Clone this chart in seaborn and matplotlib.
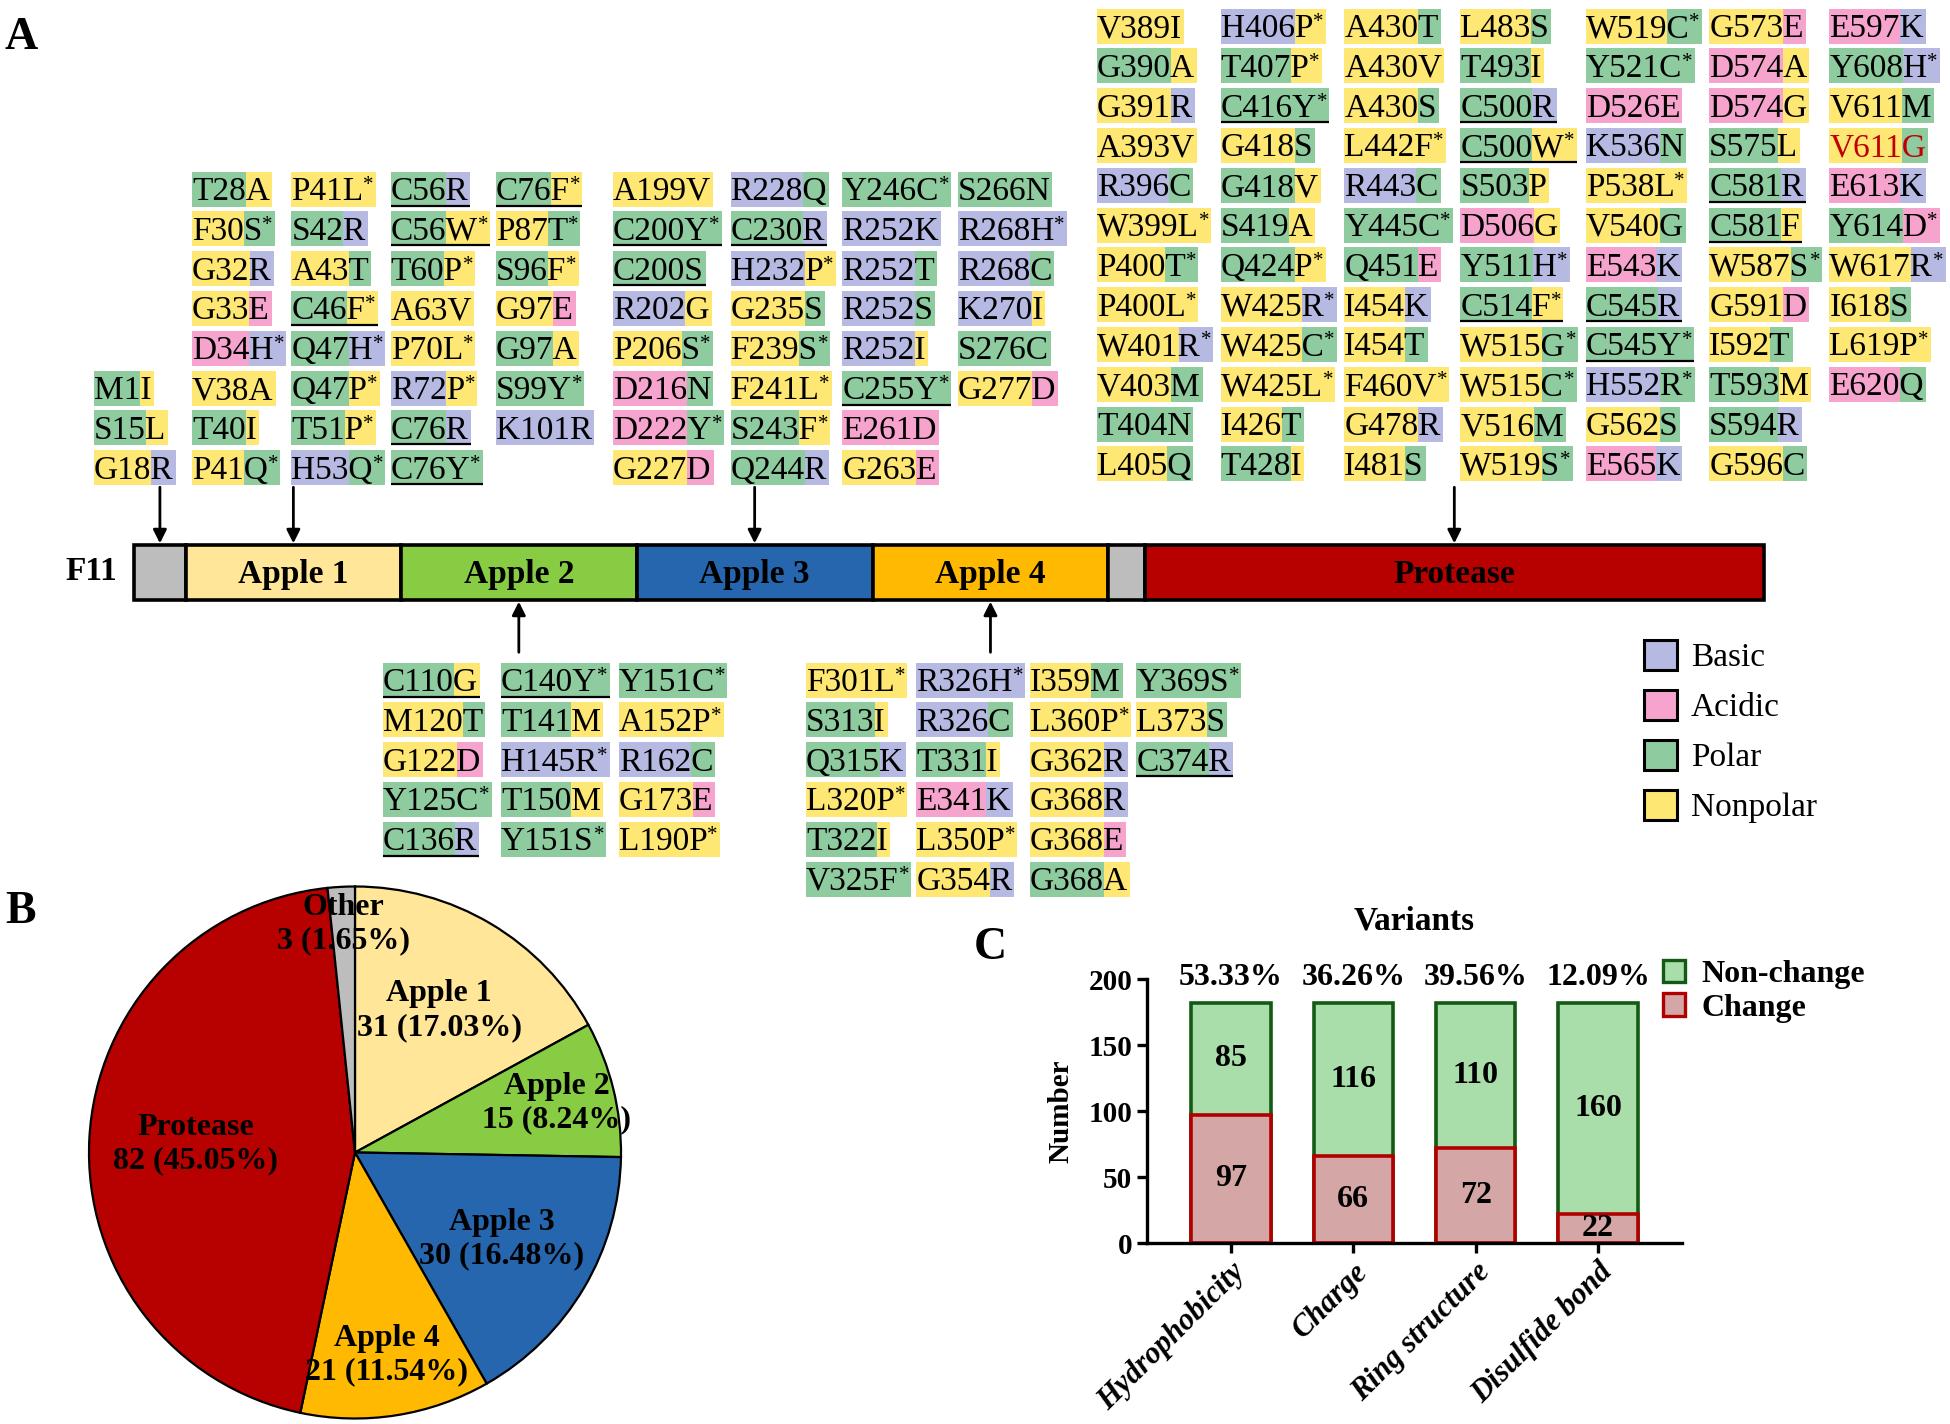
import matplotlib
matplotlib.use('Agg')
import matplotlib.pyplot as plt
import numpy as np
import pandas as pd
import seaborn as sns
from matplotlib.patches import Rectangle, Patch

sns.set_theme(style='ticks')
plt.rcParams['font.family'] = ['Liberation Serif', 'DejaVu Serif']
for key in ['text.color', 'axes.labelcolor', 'xtick.color', 'ytick.color', 'axes.edgecolor']:
    plt.rcParams[key] = 'black'

# ---- data: variants per domain, "label:classes" (b basic, a acidic, p polar, n nonpolar)
other_cols = [["M1I:pn", "S15L:pn", "G18R:nb"]]

apple1_cols = [
    ["T28A:pn", "F30S*:np", "G32R:nb", "G33E:na", "D34H*:ab", "V38A:nn", "T40I:pn", "P41Q*:np"],
    ["P41L*:nn", "S42R:pb", "A43T:np", "C46F*:pn", "Q47H*:pb", "Q47P*:pn", "T51P*:pn", "H53Q*:bp"],
    ["C56R:pb", "C56W*:pn", "T60P*:pn", "A63V:nn", "P70L*:nn", "R72P*:bn", "C76R:pb", "C76Y*:pp"],
    ["C76F*:pn", "P87T*:np", "S96F*:pn", "G97E:na", "G97A:pn", "S99Y*:pp", "K101R:bb"],
]

apple2_cols = [
    ["C110G:pn", "M120T:np", "G122D:na", "Y125C*:pp", "C136R:pb"],
    ["C140Y*:pp", "T141M:pn", "H145R*:bb", "T150M:pn", "Y151S*:pp"],
    ["Y151C*:pp", "A152P*:nn", "R162C:bp", "G173E:na", "L190P*:nn"],
]

apple3_cols = [
    ["A199V:nn", "C200Y*:pp", "C200S:pp", "R202G:bn", "P206S*:np", "D216N:ap", "D222Y*:ap", "G227D:na"],
    ["R228Q:bp", "C230R:pb", "H232P*:bn", "G235S:np", "F239S*:np", "F241L*:nn", "S243F*:pn", "Q244R:pb"],
    ["Y246C*:pp", "R252K:bb", "R252T:bp", "R252S:bp", "R252I:bn", "C255Y*:pp", "E261D:aa", "G263E:na"],
    ["S266N:pp", "R268H*:bb", "R268C:bp", "K270I:bn", "S276C:pp", "G277D:na"],
]

apple4_cols = [
    ["F301L*:nn", "S313I:pn", "Q315K:pb", "L320P*:nn", "T322I:pn", "V325F*:pp"],
    ["R326H*:bb", "R326C:bp", "T331I:pn", "E341K:ab", "L350P*:nn", "G354R:nb"],
    ["I359M:np", "L360P*:nn", "G362R:nb", "G368R:nb", "G368E:na", "G368A:pn"],
    ["Y369S*:pp", "L373S:np", "C374R:pb"],
]

protease_cols = [
    ["V389I:nn", "G390A:pn", "G391R:nb", "A393V:nn", "R396C:bp", "W399L*:nn", "P400T*:np", "P400L*:nn",
     "W401R*:nb", "V403M:np", "T404N:pp", "L405Q:np"],
    ["H406P*:bn", "T407P*:pn", "C416Y*:pp", "G418S:np", "G418V:pn", "S419A:pn", "Q424P*:pn", "W425R*:nb",
     "W425C*:np", "W425L*:nn", "I426T:np", "T428I:pn"],
    ["A430T:np", "A430V:nn", "A430S:np", "L442F*:nn", "R443C:bp", "Y445C*:pp", "Q451E:pa", "I454K:nb",
     "I454T:np", "F460V*:nn", "G478R:nb", "I481S:np"],
    ["L483S:np", "T493I:pn", "C500R:pb", "C500W*:pn", "S503P:pn", "D506G:an", "Y511H*:pb", "C514F*:pn",
     "W515G*:np", "W515C*:np", "V516M:np", "W519S*:np"],
    ["W519C*:np", "Y521C*:pp", "D526E:aa", "K536N:bp", "P538L*:nn", "V540G:np", "E543K:ab", "C545R:pb",
     "C545Y*:pp", "H552R*:bp", "G562S:np", "E565K:ab"],
    ["G573E:na", "D574A:an", "D574G:an", "S575L:pn", "C581R:pb", "C581F:pn", "W587S*:np", "G591D:na",
     "I592T:np", "T593M:pn", "S594R:pb", "G596C:np"],
    ["E597K:ab", "Y608H*:pb", "V611M:np", "V611G:np", "E613K:ab", "Y614D*:pa", "W617R*:nb", "I618S:np",
     "L619P*:nn", "E620Q:ap"],
]
highlight = ["V611G"]

# domains of F11 (residue ranges)
domain_names = ["", "Apple 1", "Apple 2", "Apple 3", "Apple 4", "", "Protease"]
domain_start = [0, 20, 103, 194, 285, 376, 390]
domain_end = [20, 103, 194, 285, 376, 390, 629]

class_names = ["Basic", "Acidic", "Polar", "Nonpolar"]

# panel C
categories = ["Hydrophobicity", "Charge", "Ring structure", "Disulfide bond"]
change = [97, 66, 72, 22]
non_change = [85, 116, 110, 160]
pct_labels = ["53.33%", "36.26%", "39.56%", "12.09%"]

# ---- styles
AA_COLORS = {'b': '#B6B9E2', 'a': '#F6A4CD', 'p': '#8ECB9F', 'n': '#FFE773'}
DOMAIN_COLORS = ['#BDBDBD', '#FFE699', '#88CC44', '#2566AE', '#FFB900', '#BDBDBD', '#B70000']
CHANGE_FILL, CHANGE_EDGE = '#D5A6A6', '#B00000'
NON_FILL, NON_EDGE = '#A9DDA9', '#145A14'
FS = 24
ROW = 39.8
BOX_H = 35

fig = plt.figure(figsize=(19.5, 14.24), dpi=100)
ax = fig.add_axes([0, 0, 1, 1])
ax.set_xlim(0, 1950)
ax.set_ylim(1424, 0)
ax.axis('off')
renderer = fig.canvas.get_renderer()


def text_width(s, **kw):
    t = ax.text(0, 0, s, **kw)
    w = t.get_window_extent(renderer).width
    t.remove()
    return w


def draw_variant(x, yc, entry):
    label, cls = entry.split(':')
    star = label.endswith('*')
    core = label.rstrip('*')
    color = '#C00000' if core in highlight else 'black'
    w_head = text_width(core[:-1], fontsize=FS)
    w_core = text_width(core, fontsize=FS)
    w_star = text_width('*', fontsize=15) if star else 0
    total = w_core + w_star + 2
    ax.add_patch(Rectangle((x, yc - BOX_H / 2), w_head, BOX_H, fc=AA_COLORS[cls[0]], ec='none', zorder=1))
    ax.add_patch(Rectangle((x + w_head, yc - BOX_H / 2), total - w_head, BOX_H,
                           fc=AA_COLORS[cls[1]], ec='none', zorder=1))
    ax.text(x, yc + 11, core, fontsize=FS, color=color, va='baseline', ha='left', zorder=2)
    if star:
        ax.text(x + w_core, yc + 1, '*', fontsize=15, va='baseline', ha='left', zorder=2)
    if core[0] == 'C':
        ax.plot([x, x + total], [yc + BOX_H / 2 - 1] * 2, color='black', lw=1.6,
                solid_capstyle='butt', zorder=3)
    return total


def draw_group(cols, x0, y0, gap):
    x = x0
    for col in cols:
        widths = [draw_variant(x, y0 + i * ROW, e) for i, e in enumerate(col)]
        x += max(widths) + gap


draw_group(other_cols, 94, 189 + 5 * ROW, 6)
draw_group(apple1_cols, 192, 189, 5.3)
draw_group(apple3_cols, 613, 189, 6.5)
draw_group(protease_cols, 1097, 26, 7.3)
draw_group(apple2_cols, 383, 680, 9)
draw_group(apple4_cols, 806, 680, 5)

# ---- domain bar
ax_dom = fig.add_axes([134 / 1950, (1424 - 600) / 1424, 1630 / 1950, 55 / 1424])
starts = np.array(domain_start)
lengths = np.array(domain_end) - starts
bars = ax_dom.barh(0.5, lengths, left=starts, height=1, color=DOMAIN_COLORS,
                   edgecolor='black', linewidth=2.6)
for b in bars:
    b.set_clip_on(False)
ax_dom.set_xlim(0, domain_end[-1])
ax_dom.set_ylim(0, 1)
ax_dom.axis('off')
mids = (starts + np.array(domain_end)) / 2
for name, m in zip(domain_names, mids):
    if name:
        ax_dom.text(m, 0.47, name, ha='center', va='center', fontsize=24, fontweight='bold')

arrow_kw = dict(arrowstyle='-|>', color='black', lw=2, mutation_scale=20, shrinkA=0, shrinkB=0)
for d in [0, 1, 3, 6]:
    ax_dom.annotate('', xy=(mids[d], 1.03), xytext=(mids[d], 2.05), arrowprops=arrow_kw,
                    annotation_clip=False)
for d in [2, 4]:
    ax_dom.annotate('', xy=(mids[d], -0.03), xytext=(mids[d], -0.95), arrowprops=arrow_kw,
                    annotation_clip=False)
ax.text(91, 572, 'F11', fontsize=24, fontweight='bold', ha='center', va='center')

# class legend
class_handles = [Patch(fc=AA_COLORS[k], ec='black', lw=2.2, label=n)
                 for k, n in zip(['b', 'a', 'p', 'n'], class_names)]
ax.legend(handles=class_handles, loc='upper left', bbox_to_anchor=(1644 / 1950, 1 - 640 / 1424),
          frameon=False, fontsize=24, handlelength=1.0, handleheight=1.0, handletextpad=0.4,
          labelspacing=0.5, borderpad=0, borderaxespad=0)

# panel letters
ax.text(21, 38, 'A', fontsize=33, fontweight='bold', ha='center', va='center')
ax.text(20, 912, 'B', fontsize=33, fontweight='bold', ha='center', va='center')
ax.text(990, 948, 'C', fontsize=33, fontweight='bold', ha='center', va='center')

# ---- panel B: pie
pie_names = ["Apple 1", "Apple 2", "Apple 3", "Apple 4", "Protease", "Other"]
pie_counts = [sum(len(c) for c in g) for g in
              [apple1_cols, apple2_cols, apple3_cols, apple4_cols, protease_cols, other_cols]]
pie_colors = [DOMAIN_COLORS[i] for i in [1, 2, 3, 4, 6, 0]]
label_r = [0.62, 0.78, 0.64, 0.77, 0.6, 0.86]

r_px, cx, cy = 266, 355, 1152.5
s = 2 * r_px * 1.03
ax_pie = fig.add_axes([(cx - s / 2) / 1950, (1424 - cy - s / 2) / 1424, s / 1950, s / 1424])
wedges, _ = ax_pie.pie(pie_counts, colors=pie_colors, startangle=90, counterclock=False,
                       wedgeprops=dict(edgecolor='black', linewidth=1.6))
ax_pie.set_xlim(-1.03, 1.03)
ax_pie.set_ylim(-1.03, 1.03)
ax_pie.set_aspect('equal')
total = sum(pie_counts)
for w, name, cnt, rr in zip(wedges, pie_names, pie_counts, label_r):
    ang = np.deg2rad((w.theta1 + w.theta2) / 2)
    ax_pie.text(rr * np.cos(ang), rr * np.sin(ang), f"{name}\n{cnt} ({100 * cnt / total:.2f}%)",
                ha='center', va='center', fontsize=23, fontweight='bold')

# ---- panel C: stacked bars
df = pd.DataFrame({'category': categories, 'change': change, 'non_change': non_change})
df['total'] = df['change'] + df['non_change']

ax_bar = fig.add_axes([1147 / 1950, 181 / 1424, 535 / 1950, 264 / 1424])
ax_bar.patch.set_alpha(0)
sns.barplot(data=df, x='category', y='total', color=NON_FILL, edgecolor=NON_EDGE, linewidth=2.6,
            width=0.65, saturation=1, errorbar=None, ax=ax_bar)
sns.barplot(data=df, x='category', y='change', color=CHANGE_FILL, edgecolor=CHANGE_EDGE, linewidth=2.6,
            width=0.65, saturation=1, errorbar=None, ax=ax_bar)
ax_bar.bar_label(ax_bar.containers[1], labels=[str(v) for v in change], label_type='center',
                 fontsize=23, fontweight='bold')
for i, row in df.iterrows():
    ax_bar.text(i, row['change'] + row['non_change'] / 2, str(row['non_change']), ha='center',
                va='center', fontsize=23, fontweight='bold')
    ax_bar.text(i, 201, pct_labels[i], ha='center', va='center', fontsize=23, fontweight='bold',
                clip_on=False)

ax_bar.set_xlim(-0.686, 3.686)
ax_bar.set_ylim(0, 200)
ax_bar.set_yticks([0, 50, 100, 150, 200])
sns.despine(ax=ax_bar)
for sp in ['left', 'bottom']:
    ax_bar.spines[sp].set_linewidth(2.4)
ax_bar.tick_params(width=2.4, length=7, labelsize=21, direction='out', colors='black')
for lab in ax_bar.get_yticklabels():
    lab.set_fontweight('bold')
plt.setp(ax_bar.get_xticklabels(), rotation=45, ha='right', rotation_mode='anchor',
         fontsize=22, fontweight='bold', fontstyle='italic')
ax_bar.set_xlabel('')
ax_bar.set_ylabel('Number', fontsize=21, fontweight='bold', labelpad=10)
ax_bar.set_title('Variants', fontsize=24, fontweight='bold', pad=36)

bar_handles = [Patch(fc=NON_FILL, ec=NON_EDGE, lw=2.4, label='Non-change'),
               Patch(fc=CHANGE_FILL, ec=CHANGE_EDGE, lw=2.4, label='Change')]
fig.legend(handles=bar_handles, loc='upper left', bbox_to_anchor=(1663 / 1950, 1 - 960 / 1424),
           frameon=False, prop={'weight': 'bold', 'size': 23}, handlelength=0.7, handleheight=0.7,
           handletextpad=0.5, labelspacing=0.12, borderpad=0, borderaxespad=0)

fig.savefig('out.png', dpi=100)
